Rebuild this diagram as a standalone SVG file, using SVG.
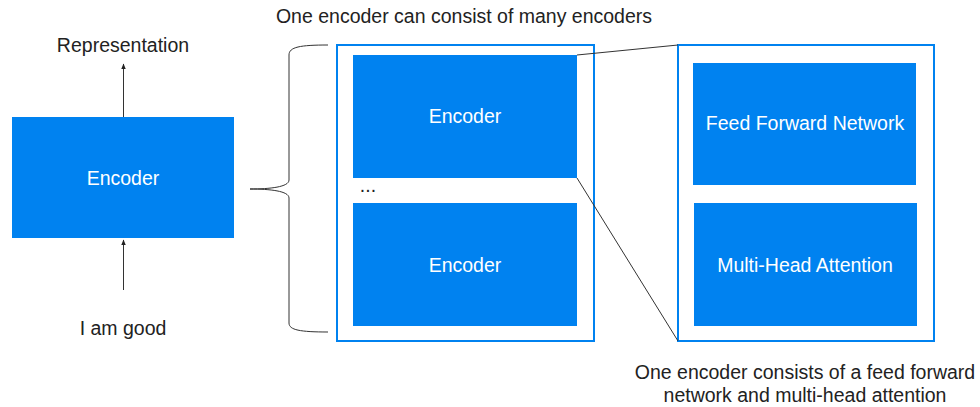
<svg xmlns="http://www.w3.org/2000/svg" width="980" height="407" viewBox="0 0 980 407">
<style>
  .blk { fill: #0082f0; }
  .frame { fill: none; stroke: #0082f0; stroke-width: 2; }
  .wt { fill: #ffffff; font-family: "Liberation Sans", Arial, sans-serif; font-size: 19.5px; text-anchor: middle; }
  .dt { fill: #222222; font-family: "Liberation Sans", Arial, sans-serif; font-size: 19.5px; text-anchor: middle; }
  .ln { fill: none; stroke: #333333; stroke-width: 1; }
</style>
<defs>
  <marker id="ah" viewBox="0 0 10 10" refX="9" refY="5" markerWidth="6" markerHeight="6" orient="auto">
    <path d="M0,1 L10,5 L0,9 z" fill="#222222"/>
  </marker>
</defs>
<rect width="980" height="407" fill="#ffffff"/>

<g id="title-top"><text class="dt" x="464" y="23">One encoder can consist of many encoders</text></g>
<g id="label-representation"><text class="dt" x="123" y="52">Representation</text></g>
<g id="label-input"><text class="dt" x="123" y="335">I am good</text></g>
<g id="caption-right">
  <text class="dt" x="805" y="379">One encoder consists of a feed forward</text>
  <text class="dt" x="805" y="402">network and multi-head attention</text>
</g>

<g id="encoder-main">
  <rect class="blk" x="12" y="117" width="222" height="121"/>
  <text class="wt" x="123" y="185">Encoder</text>
</g>

<g id="encoder-stack">
  <rect class="frame" x="337" y="45" width="257" height="296"/>
</g>
<g id="encoder-1">
  <rect class="blk" x="353" y="55" width="224" height="123"/>
  <text class="wt" x="465" y="123">Encoder</text>
</g>
<g id="ellipsis"><text class="dt" x="368" y="192" font-size="14">...</text></g>
<g id="encoder-2">
  <rect class="blk" x="353" y="203" width="224" height="123"/>
  <text class="wt" x="465" y="272">Encoder</text>
</g>

<g id="encoder-detail">
  <rect class="frame" x="678" y="45" width="256" height="296"/>
</g>
<g id="ffn">
  <rect class="blk" x="693" y="63" width="223" height="122"/>
  <text class="wt" x="805" y="130">Feed Forward Network</text>
</g>
<g id="mha">
  <rect class="blk" x="694" y="203" width="223" height="123"/>
  <text class="wt" x="805" y="272">Multi-Head Attention</text>
</g>

<g id="connectors">
  <line class="ln" x1="123.5" y1="117" x2="123.5" y2="64" marker-end="url(#ah)"/>
  <line class="ln" x1="123.5" y1="290" x2="123.5" y2="240" marker-end="url(#ah)"/>
  <path class="ln" d="M328,45 C300,45 289,47 289,55 L289,180 C289,187 270,189 250,189 C270,189 289,191 289,198 L289,323 C289,330 300,332 328,332"/>
  <line class="ln" x1="577" y1="55" x2="678" y2="45"/>
  <line class="ln" x1="577" y1="178" x2="678" y2="341"/>
</g>
</svg>
